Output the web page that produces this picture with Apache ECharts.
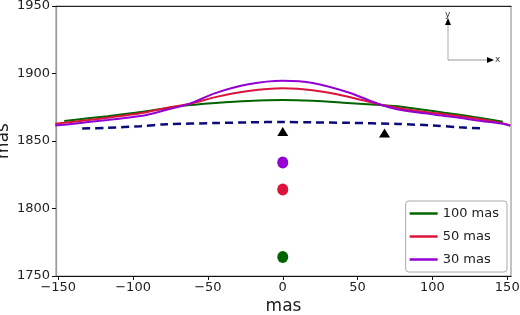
<!DOCTYPE html>
<html>
<head>
<meta charset="utf-8">
<script src="https://cdn.jsdelivr.net/npm/echarts@6/dist/echarts.min.js"></script>
<style>
  html, body { margin: 0; padding: 0; background: #fff; }
  #chart { width: 520px; height: 315px; }
</style>
</head>
<body>
<div id="chart"></div>
<script>
// 曲线数据 (x 单位 mas)
var greenX = [-146, -130, -117, -95, -78, -62, -45, -23, 0, 20, 43, 65, 77, 95, 108, 118, 130, 147]
var greenY = [1864.8, 1866.8, 1868.4, 1871.4, 1874.3, 1876.6, 1878.2, 1879.7, 1880.4, 1879.8, 1878.2, 1876.6, 1875.8, 1873.0, 1871.0, 1869.5, 1867.5, 1864.3]

var redX = [-152, -146, -130, -117, -95, -78, -62, -45, -23, 0, 20, 43, 65, 77, 95, 108, 118, 130, 146, 152]
var redY = [1862.8, 1863.5, 1865.5, 1867.3, 1870.5, 1874.5, 1877.6, 1882.5, 1887.0, 1889.0, 1887.6, 1883.0, 1877.0, 1874.5, 1871.5, 1869.8, 1868.3, 1866.5, 1863.3, 1861.5]

var purpleX = [-152, -146, -130, -117, -95, -78, -62, -45, -23, 0, 20, 43, 65, 77, 95, 108, 118, 130, 146, 152]
var purpleY = [1861.5, 1862.0, 1864.0, 1865.6, 1868.5, 1873.0, 1877.7, 1885.5, 1892.0, 1894.6, 1893.0, 1886.3, 1877.0, 1873.3, 1870.5, 1868.5, 1867.3, 1865.2, 1862.9, 1861.3]

var dashX = [-134, -117, -95, -78, -45, -23, 0, 20, 43, 77, 100, 118, 135]
var dashY = [1859.2, 1859.8, 1861.0, 1862.4, 1863.3, 1863.8, 1864.1, 1863.8, 1863.5, 1862.6, 1861.5, 1860.2, 1859.2]

var triX = [0, 68]
var triY = [1857, 1856]

var dotX = [0, 0, 0]
var dotY = [1834, 1814, 1764]
var dotColors = ['#9400d3', '#dc143c', '#006400']

var xTicks = [-150, -100, -50, 0, 50, 100, 150]
var yTicks = [1750, 1800, 1850, 1900, 1950]

function zip(xs, ys) {
  return xs.map(function (x, i) { return [x, ys[i]] })
}

var FONT = 'DejaVu Sans'
var chart = echarts.init(document.getElementById('chart'), null, { renderer: 'canvas' })

var option = {
  animation: false,
  textStyle: { fontFamily: FONT },
  grid: {
    left: 56,
    right: 9,
    top: 6,
    bottom: 39,
    containLabel: false,
    outerBoundsMode: 'none',
    show: true,
    borderColor: '#999',
    borderWidth: 1.2
  },
  legend: {
    orient: 'vertical',
    right: 13,
    bottom: 43,
    data: ['100 mas', '50 mas', '30 mas'],
    icon: 'rect',
    backgroundColor: '#fff',
    borderColor: '#aaa',
    borderWidth: 1,
    borderRadius: 3,
    padding: [6, 8, 6, 4],
    itemGap: 10,
    itemWidth: 28,
    itemHeight: 2.5,
    textStyle: { fontFamily: FONT, fontSize: 13, color: '#222' }
  },
  xAxis: [
    {
      type: 'value',
      min: -151.5,
      max: 152.5,
      name: 'mas',
      nameLocation: 'middle',
      nameGap: 22,
      nameMoveOverlap: false,
      nameTextStyle: { fontFamily: FONT, fontSize: 17, color: '#222' },
      axisLine: { show: true, onZero: false, lineStyle: { color: '#111', width: 1.2 } },
      axisTick: { show: true, length: 4, customValues: xTicks, lineStyle: { color: '#111' } },
      axisLabel: {
        customValues: xTicks,
        fontSize: 13,
        color: '#222',
        margin: 5,
        formatter: function (v) { return String(v).replace('-', '\u2212') }
      },
      splitLine: { show: false }
    },
    {
      type: 'value',
      position: 'top',
      min: -151.5,
      max: 152.5,
      axisLine: { show: true, onZero: false, lineStyle: { color: '#222', width: 1.2 } },
      axisTick: { show: false },
      axisLabel: { show: false },
      splitLine: { show: false }
    }
  ],
  yAxis: {
    type: 'value',
    min: 1750,
    max: 1950,
    interval: 50,
    name: 'mas',
    nameLocation: 'middle',
    nameGap: 44,
    nameMoveOverlap: false,
    nameTextStyle: { fontFamily: FONT, fontSize: 17, color: '#222' },
    axisLine: { show: true, onZero: false, lineStyle: { color: '#999', width: 1.2 } },
    axisTick: { show: true, length: 4, lineStyle: { color: '#111' } },
    axisLabel: {
      fontSize: 13,
      color: '#222',
      margin: 6,
      formatter: function (v) { return String(v) }
    },
    splitLine: { show: false }
  },
  series: [
    {
      name: 'dashed',
      type: 'line',
      data: zip(dashX, dashY),
      smooth: 0.3,
      symbol: 'none',
      lineStyle: { color: '#0b0b7a', width: 2.5, type: [8, 5] },
      z: 2
    },
    {
      name: '100 mas',
      type: 'line',
      data: zip(greenX, greenY),
      smooth: 0.3,
      symbol: 'none',
      itemStyle: { color: '#006400' },
      lineStyle: { color: '#006400', width: 2 },
      z: 3
    },
    {
      name: '50 mas',
      type: 'line',
      data: zip(redX, redY),
      smooth: 0.3,
      symbol: 'none',
      itemStyle: { color: '#dc143c' },
      lineStyle: { color: '#dc143c', width: 2 },
      z: 4
    },
    {
      name: '30 mas',
      type: 'line',
      data: zip(purpleX, purpleY),
      smooth: 0.3,
      symbol: 'none',
      itemStyle: { color: '#9400d3' },
      lineStyle: { color: '#9400d3', width: 2 },
      z: 5
    },
    {
      name: 'tri',
      type: 'scatter',
      data: zip(triX, triY),
      symbol: 'triangle',
      symbolSize: [11, 9],
      itemStyle: { color: '#000', opacity: 1 },
      z: 6
    },
    {
      name: 'dots',
      type: 'scatter',
      data: dotY.map(function (y, i) {
        return { value: [dotX[i], y], itemStyle: { color: dotColors[i], opacity: 1 } }
      }),
      symbol: 'circle',
      symbolSize: [11, 12],
      z: 6
    }
  ],
  graphic: [
    { type: 'line', shape: { x1: 448, y1: 60, x2: 448, y2: 24 }, style: { stroke: '#bbb', lineWidth: 1.2 } },
    { type: 'line', shape: { x1: 448, y1: 60, x2: 488, y2: 60 }, style: { stroke: '#999', lineWidth: 1.2 } },
    { type: 'polygon', shape: { points: [[445, 25], [451, 25], [448, 18]] }, style: { fill: '#000' } },
    { type: 'polygon', shape: { points: [[487, 57], [487, 63], [494, 60]] }, style: { fill: '#000' } },
    { type: 'text', x: 445, y: 10, style: { text: 'y', fontSize: 9, fontFamily: FONT, fill: '#333' } },
    { type: 'text', x: 495, y: 55, style: { text: 'x', fontSize: 9, fontFamily: FONT, fill: '#333' } }
  ]
}

chart.setOption(option)
</script>
</body>
</html>
